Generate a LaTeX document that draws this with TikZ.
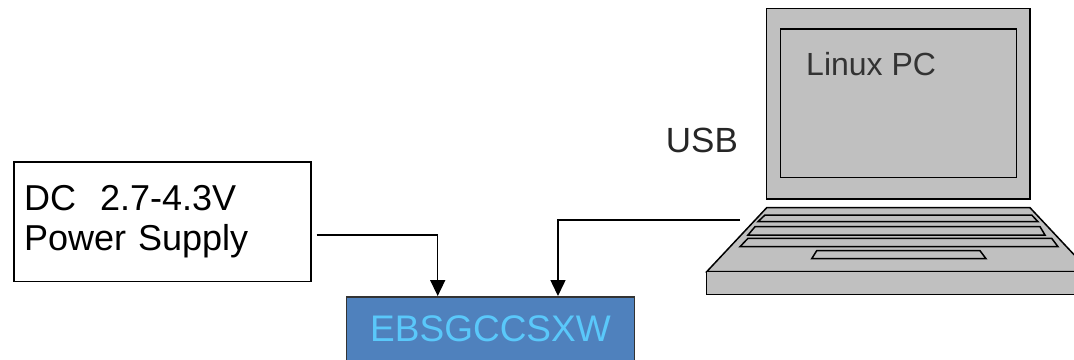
\documentclass[tikz,border=0pt]{standalone}
\usepackage{fontspec}
\setmainfont{Liberation Sans}
\usetikzlibrary{arrows.meta}
\definecolor{boardblue}{RGB}{79,129,189}
\definecolor{boardtext}{RGB}{90,200,250}
\definecolor{pcgray}{RGB}{192,192,192}
\definecolor{labelgray}{RGB}{51,51,51}

\begin{document}
\begin{tikzpicture}[x=1pt,y=-1pt,
	wire/.style={draw=black,line width=1.5pt,-{Triangle[width=15pt,length=16pt]}},
	pcpart/.style={draw=black,line width=1.5pt,fill=pcgray},
	txt/.style={anchor=base west,inner sep=0pt}]
\clip (0,0) rectangle (1074,359);
\node[draw,line width=1.5pt,anchor=north west,text width=276.7pt,inner xsep=10pt,
	minimum height=119.7pt,align=left,font=\fontsize{36}{39.3}\selectfont] (psu)
	at (13.3,161) {DC\ \ 2.7-4.3V\\Power Supply};
\node[draw=labelgray,line width=1.5pt,fill=boardblue,text=boardtext,minimum width=287.6pt,
	minimum height=64pt,anchor=north,font=\fontsize{37}{44}\selectfont] (board)
	at (490.5,296) {EBSGCCSXW};
% laptop
\draw[pcpart] (766.7,8.3) rectangle (1030,199);
\draw[pcpart] (780.7,29) rectangle (1016.7,177.3);
\draw[pcpart] (766.7,207.7) -- (1030,207.7) -- (1090,271.7) -- (706.7,271.7) -- cycle;
\draw[pcpart] (706.7,271.7) rectangle (1090,294.7);
\draw[pcpart] (765,215) -- (1031.7,215) -- (1038,221.7) -- (758,221.7) -- cycle;
\draw[pcpart] (755,226.7) -- (1040,226.7) -- (1045,235) -- (748,235) -- cycle;
\draw[pcpart] (748,238.3) -- (1051.7,238.3) -- (1058,246.7) -- (740,246.7) -- cycle;
\draw[pcpart] (816.7,250.7) -- (980,250.7) -- (986,258.7) -- (811.7,258.7) -- cycle;
\node[txt,text=labelgray,font=\fontsize{32}{38}\selectfont] (pclabel) at (806,75) {Linux PC};
\node[txt,text=black!85,font=\fontsize{35}{42}\selectfont] (usblabel) at (665.7,152.3) {USB};
% connectors
\coordinate (pwrout) at (316.7,235);
\coordinate (usbout) at (740,220);
\draw[wire] (pwrout) -| ([xshift=-52.8pt]board.north);
\draw[wire] (usbout) -| ([xshift=67.5pt]board.north);
\end{tikzpicture}
\end{document}
